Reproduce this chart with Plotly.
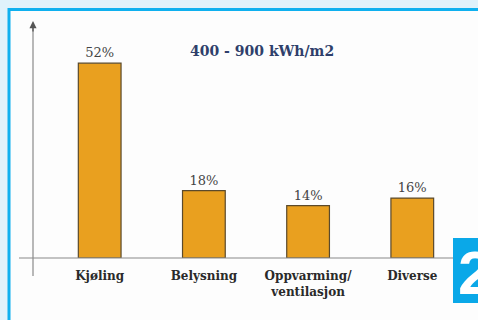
import plotly.graph_objects as go

categories = ["Kjøling", "Belysning", "Oppvarming/<br>ventilasjon", "Diverse"]
values = [52, 18, 14, 16]
value_labels = ["52%", "18%", "14%", "16%"]
title_text = "400 - 900 kWh/m2"

W, H = 478, 320
L, R, T, B = 33, 23, 22, 62
pw, ph = W - L - R, H - T - B

def px(x):
    return (x - L) / pw

def py(y):
    return (H - B - y) / ph

fig = go.Figure()
fig.add_trace(go.Bar(
    x=list(range(len(categories))),
    y=values,
    text=value_labels,
    textposition="outside",
    textfont=dict(family="DejaVu Serif", size=13, color="#444444"),
    marker=dict(color="#E9A01F", line=dict(color="#5b4a2c", width=1.2)),
    width=0.41,
    cliponaxis=False,
))

shapes = [
    # frame
    dict(type="rect", xref="paper", yref="paper", x0=px(9), x1=px(490), y0=py(330), y1=py(9.5),
         fillcolor="#fdfdfd", line=dict(color="#0fb0ef", width=3), layer="below"),
    # x axis line
    dict(type="line", xref="paper", yref="paper", x0=px(19), x1=px(455), y0=py(258), y1=py(258),
         line=dict(color="#8a8a8a", width=1.2)),
    # y axis line
    dict(type="line", xref="paper", yref="paper", x0=px(33), x1=px(33), y0=py(276), y1=py(26),
         line=dict(color="#8a8a8a", width=1.2)),
    # badge
    dict(type="rect", xref="paper", yref="paper", x0=px(453), x1=px(481), y0=py(303), y1=py(238),
         fillcolor="#0aa8e8", line=dict(width=0), layer="above"),
]

annotations = [
    dict(text="<b>" + title_text + "</b>", xref="paper", yref="paper", x=px(262), y=py(41),
         showarrow=False, font=dict(family="DejaVu Serif", size=14, color="#2f3f6b")),
    dict(text="", xref="paper", yref="paper", x=px(33), y=py(21), ax=0, ay=12,
         axref="pixel", ayref="pixel", showarrow=True, arrowhead=2, arrowsize=1.1,
         arrowwidth=1.3, arrowcolor="#555555"),
    dict(text="<b>2</b>", xref="paper", yref="paper", x=px(456), y=py(272),
         xanchor="left", yanchor="middle", showarrow=False,
         font=dict(family="Liberation Sans", size=62, color="white")),
]

fig.update_layout(
    width=W, height=H,
    margin=dict(l=L, r=R, t=T, b=B),
    paper_bgcolor="#e0f2fb",
    plot_bgcolor="rgba(0,0,0,0)",
    showlegend=False,
    bargap=0.6,
    shapes=shapes,
    annotations=annotations,
    xaxis=dict(
        range=[-0.64, 3.41],
        tickvals=list(range(len(categories))),
        ticktext=["<b>" + c + "</b>" for c in categories],
        tickfont=dict(family="DejaVu Serif", size=12, color="#2a2a2a"),
        ticklabelstandoff=9,
        showgrid=False, zeroline=False, showline=False, ticks="",
    ),
    yaxis=dict(range=[0, 63], showgrid=False, zeroline=False, showline=False,
               showticklabels=False, ticks=""),
)

fig.write_html("out.html")
